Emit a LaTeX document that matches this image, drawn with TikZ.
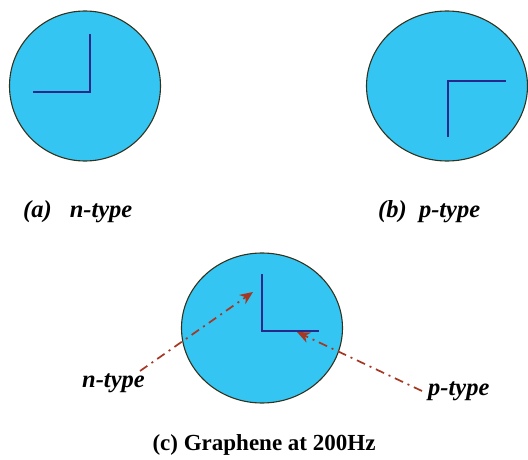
\documentclass[tikz,border=0pt]{standalone}
\usepackage{fontspec}
\setmainfont{Liberation Serif}
\usetikzlibrary{arrows.meta,shapes.geometric}

\definecolor{dotcyan}{RGB}{53,197,242}
\definecolor{rimcol}{RGB}{50,50,30}
\definecolor{spincol}{RGB}{40,40,140}
\definecolor{pointcol}{RGB}{165,55,35}

\begin{document}
\begin{tikzpicture}[
    x=1pt, y=-1pt,
    dot/.style={ellipse, draw=rimcol, fill=dotcyan, line width=1.1pt, inner sep=0pt},
    spin/.style={draw=spincol, line width=1.3pt},
    lbl/.style={font=\fontsize{24.5}{26}\selectfont\bfseries\itshape, inner sep=0pt, anchor=base west},
    pointer/.style={draw=pointcol, line width=1.7pt,
      dash pattern=on 9pt off 5pt on 2pt off 5pt,
      -{Stealth[length=13pt,width=11pt,inset=4pt]}}
  ]
  \useasboundingbox (0,0) rectangle (528,460);

  % (a) n-type
  \node[dot, minimum width=151pt, minimum height=150pt] (na) at (85,86) {};
  \draw[spin] (33,92) -- (90,92) -- (90,34);
  \node[lbl] (la) at (23,217) {(a)\hspace{18pt}n-type};

  % (b) p-type
  \node[dot, minimum width=161pt, minimum height=150pt] (pb) at (447,86) {};
  \draw[spin] (448,137) -- (448,81) -- (506,81);
  \node[lbl] (lb) at (378,217) {(b)\ \ p-type};

  % (c) graphene
  \node[dot, minimum width=161pt, minimum height=150pt] (gc) at (262,328) {};
  \draw[spin] (262,274) -- (262,331) -- (319,331);
  \coordinate (ntip) at (253,292);
  \coordinate (ptip) at (297,332);
  \coordinate (nstart) at (140,371);
  \coordinate (pstart) at (422,391);
  \node[lbl] (ln) at (82,387) {n-type};
  \node[lbl] (lp) at (428,395) {p-type};
  \draw[pointer] (nstart) -- (ntip);
  \draw[pointer] (pstart) -- (ptip);
  \node[font=\fontsize{23}{26}\selectfont\bfseries, inner sep=0pt, anchor=base] (cap) at (264,450) {(c) Graphene at 200Hz};
\end{tikzpicture}
\end{document}
